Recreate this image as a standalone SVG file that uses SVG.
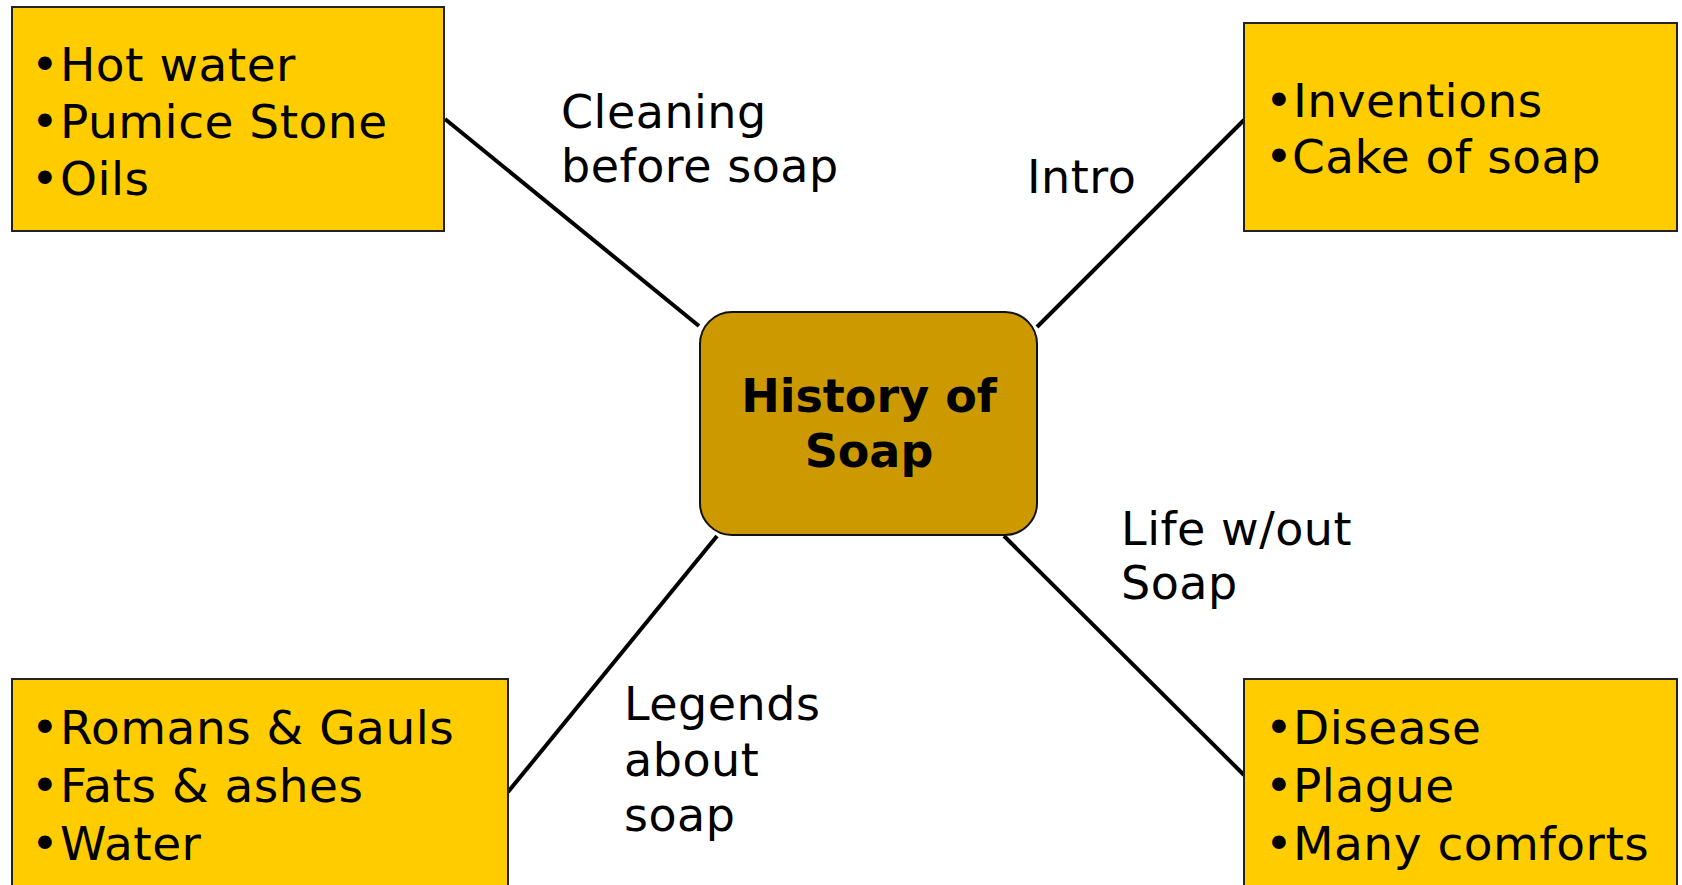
<svg xmlns="http://www.w3.org/2000/svg" width="1682" height="885" viewBox="0 0 1682 885">
<style>
.box{fill:#FFCC00;stroke:#222;stroke-width:2}
.center{fill:#CC9900;stroke:#111;stroke-width:2}
.t{font-family:"DejaVu Sans",Verdana,sans-serif;font-size:47px;fill:#000;letter-spacing:0.5px}
.lbl{font-family:"DejaVu Sans",Verdana,sans-serif;font-size:46px;fill:#000;letter-spacing:0.5px}
.b{font-family:"DejaVu Sans",Verdana,sans-serif;font-size:46px;font-weight:bold;fill:#000}
.conn{stroke:#000;stroke-width:4;fill:none}
</style>
<rect width="1682" height="885" fill="#fff"/>
<g id="connectors">
<line class="conn" x1="445" y1="119" x2="699" y2="326"/>
<line class="conn" x1="1244" y1="120" x2="1037" y2="327"/>
<line class="conn" x1="717" y1="536" x2="508" y2="792"/>
<line class="conn" x1="1004" y1="536" x2="1244" y2="775"/>
<text class="lbl" x="561" y="128">Cleaning</text>
<text class="lbl" x="561" y="182">before soap</text>
<text class="lbl" x="1027" y="193">Intro</text>
<text class="lbl" x="1121" y="545">Life w/out</text>
<text class="lbl" x="1121" y="599">Soap</text>
<text class="lbl" x="624" y="720">Legends</text>
<text class="lbl" x="624" y="776">about</text>
<text class="lbl" x="624" y="831">soap</text>
</g>
<g id="node-center">
<rect class="center" x="700" y="312" width="337" height="223" rx="32" ry="32"/>
<text class="b" x="869" y="412" text-anchor="middle">History of</text>
<text class="b" x="869" y="467" text-anchor="middle">Soap</text>
</g>
<g id="node-cleaning">
<rect class="box" x="12" y="7" width="432" height="224"/>
<text class="t" x="31" y="81">•<tspan x="60">Hot water</tspan></text>
<text class="t" x="31" y="138">•<tspan x="60">Pumice Stone</tspan></text>
<text class="t" x="31" y="195">•<tspan x="60">Oils</tspan></text>
</g>
<g id="node-intro">
<rect class="box" x="1244" y="23" width="433" height="208"/>
<text class="t" x="1265" y="117">•<tspan x="1293">Inventions</tspan></text>
<text class="t" x="1265" y="173">•<tspan x="1292">Cake of soap</tspan></text>
</g>
<g id="node-legends">
<rect class="box" x="12" y="679" width="496" height="220"/>
<text class="t" x="31" y="744">•<tspan x="60">Romans &amp; Gauls</tspan></text>
<text class="t" x="31" y="802">•<tspan x="60">Fats &amp; ashes</tspan></text>
<text class="t" x="31" y="860">•<tspan x="60">Water</tspan></text>
</g>
<g id="node-life">
<rect class="box" x="1244" y="679" width="433" height="220"/>
<text class="t" x="1265" y="744">•<tspan x="1293">Disease</tspan></text>
<text class="t" x="1265" y="802">•<tspan x="1293">Plague</tspan></text>
<text class="t" x="1265" y="860">•<tspan x="1293">Many comforts</tspan></text>
</g>
</svg>
